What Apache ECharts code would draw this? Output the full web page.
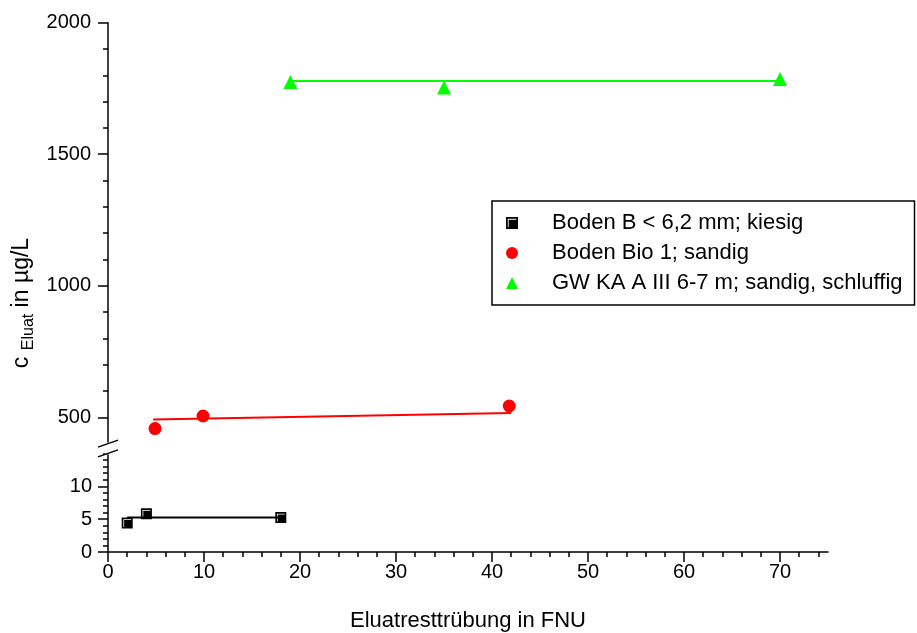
<!DOCTYPE html>
<html>
<head>
<meta charset="utf-8">
<script src="https://cdn.jsdelivr.net/npm/echarts@6/dist/echarts.min.js"></script>
<style>
  html, body { margin: 0; padding: 0; background: #fff; }
  #chart { width: 917px; height: 633px; }
</style>
</head>
<body>
<div id="chart"></div>
<script>
// Measured samples (x: Eluatresttrübung in FNU, y: c_Eluat in µg/L)
const bodenBX = [2, 4, 18];
const bodenBY = [4.4, 5.8, 5.25];
const bodenBFitX = [2, 18];
const bodenBFitY = [5.25, 5.25];

const bio1X = [4.9, 9.9, 41.8];
const bio1Y = [457, 505, 543];
const bio1FitX = [4.7, 42];
const bio1FitY = [492, 516];

const gwX = [19, 35, 70];
const gwY = [1775, 1754, 1786];
const gwFitX = [19, 70];
const gwFitY = [1778, 1778];

const seriesNames = [
  'Boden B < 6,2 mm; kiesig',
  'Boden Bio 1; sandig',
  'GW KA A III 6-7 m; sandig, schluffig'
];

// Axis ticks
const xMajor = [0, 10, 20, 30, 40, 50, 60, 70];
const yUpperMajor = [500, 1000, 1500, 2000];
const yLowerMajor = [0, 5, 10];
const xMinor = [];
for (let v = 0; v < 75; v += 2) xMinor.push(v);
const yUpperMinor = [];
for (let v = 500; v <= 2000; v += 100) yUpperMinor.push(v);
const yLowerMinor = [];
for (let v = 0; v <= 15; v += 1) yLowerMinor.push(v);

const pairs = (xs, ys) => xs.map((x, i) => [x, ys[i]]);

const FONT = 'Liberation Sans, Arial, sans-serif';
const AXIS_LINE = { show: true, lineStyle: { color: '#000', width: 1.5 } };
// black square with a thin white inner corner stroke
const SQUARE = 'path://M0 0H10V10H0Z M1.5 1.5V8.6H2.2V2.2H8.6V1.5Z';

const chart = echarts.init(document.getElementById('chart'), null, { renderer: 'canvas' });

function minorAxis(extra, ticks) {
  return Object.assign({
    type: 'value',
    axisLine: AXIS_LINE,
    axisTick: { show: true, length: 5, customValues: ticks, lineStyle: { color: '#000', width: 1.5 } },
    axisLabel: { show: false },
    splitLine: { show: false }
  }, extra);
}
function majorAxis(extra, ticks, margin) {
  return Object.assign({
    type: 'value',
    axisLine: { show: false },
    axisTick: { show: true, length: 10, customValues: ticks, lineStyle: { color: '#000', width: 1.5 } },
    axisLabel: {
      show: true, customValues: ticks, margin: margin,
      formatter: (v) => String(v),
      color: '#000', fontFamily: FONT, fontSize: 20
    },
    splitLine: { show: false }
  }, extra);
}

const option = {
  backgroundColor: '#fff',
  animation: false,
  grid: [
    { left: 108, right: 89, top: 22.7, bottom: 189.4 },
    { left: 108, right: 89, top: 453.4, bottom: 78 }
  ],
  xAxis: [
    minorAxis({ gridIndex: 1, min: 0, max: 75, position: 'bottom' }, xMinor),
    Object.assign(majorAxis({ gridIndex: 1, min: 0, max: 75, position: 'bottom' }, xMajor, 10), {
      name: 'Eluatresttrübung in FNU',
      nameLocation: 'middle',
      nameGap: 58,
      nameTextStyle: { color: '#000', fontFamily: FONT, fontSize: 22 }
    }),
    { gridIndex: 0, type: 'value', min: 0, max: 75, show: false }
  ],
  yAxis: [
    minorAxis({ gridIndex: 0, min: 400, max: 2000, position: 'left' }, yUpperMinor),
    majorAxis({ gridIndex: 0, min: 400, max: 2000, position: 'left' }, yUpperMajor, 17),
    minorAxis({ gridIndex: 1, min: 0, max: 15, position: 'left' }, yLowerMinor),
    majorAxis({ gridIndex: 1, min: 0, max: 15, position: 'left' }, yLowerMajor, 16)
  ],
  legend: {
    orient: 'vertical',
    left: 492,
    top: 201,
    borderColor: '#000',
    borderWidth: 1.5,
    padding: [11, 12, 11, 14],
    itemWidth: 12,
    itemHeight: 12,
    itemGap: 8,
    textStyle: { color: '#000', fontFamily: FONT, fontSize: 22, lineHeight: 22, padding: [0, 0, 0, 29] },
    data: [
      { name: seriesNames[0], icon: SQUARE },
      { name: seriesNames[1], icon: 'circle' },
      { name: seriesNames[2], icon: 'triangle' }
    ]
  },
  series: [
    {
      name: 'fit-bodenB', type: 'line', xAxisIndex: 0, yAxisIndex: 2,
      data: pairs(bodenBFitX, bodenBFitY), showSymbol: false, symbol: 'none',
      lineStyle: { color: '#000', width: 2 }, silent: true, z: 2
    },
    {
      name: seriesNames[0], type: 'scatter', xAxisIndex: 0, yAxisIndex: 2,
      data: pairs(bodenBX, bodenBY), symbol: SQUARE, symbolSize: 11,
      itemStyle: { color: '#000', opacity: 1 }, z: 3
    },
    {
      name: 'fit-bio1', type: 'line', xAxisIndex: 2, yAxisIndex: 0,
      data: pairs(bio1FitX, bio1FitY), showSymbol: false, symbol: 'none',
      lineStyle: { color: '#ff0000', width: 2 }, silent: true, z: 2
    },
    {
      name: seriesNames[1], type: 'scatter', xAxisIndex: 2, yAxisIndex: 0,
      data: pairs(bio1X, bio1Y), symbol: 'circle', symbolSize: 13,
      itemStyle: { color: '#ff0000', opacity: 1 }, z: 3
    },
    {
      name: 'fit-gw', type: 'line', xAxisIndex: 2, yAxisIndex: 0,
      data: pairs(gwFitX, gwFitY), showSymbol: false, symbol: 'none',
      lineStyle: { color: '#00ff00', width: 2 }, silent: true, z: 2
    },
    {
      name: seriesNames[2], type: 'scatter', xAxisIndex: 2, yAxisIndex: 0,
      data: pairs(gwX, gwY), symbol: 'triangle', symbolSize: 14,
      itemStyle: { color: '#00ff00', opacity: 1 }, z: 3
    }
  ]
};

chart.setOption(option);

// Axis break marks and the rotated y-axis title
const upperBottom = chart.convertToPixel({ xAxisIndex: 2, yAxisIndex: 0 }, [0, 400]);
const lowerTop = chart.convertToPixel({ xAxisIndex: 0, yAxisIndex: 2 }, [0, 15]);
const bx = upperBottom[0];
const slash = (y) => ({
  type: 'line',
  shape: { x1: bx - 10, y1: y + 3.5, x2: bx + 10, y2: y - 3.5 },
  style: { stroke: '#000', lineWidth: 1.5 },
  z: 10
});

chart.setOption({
  graphic: [
    {
      type: 'rect',
      shape: { x: bx - 3, y: upperBottom[1] - 1, width: 6, height: lowerTop[1] - upperBottom[1] + 2 },
      style: { fill: '#fff' },
      z: 9
    },
    slash(upperBottom[1]),
    slash(lowerTop[1]),
    {
      type: 'text',
      x: 22,
      y: 303,
      rotation: Math.PI / 2,
      style: {
        text: '{c|c }{s|Eluat}{c| in µg/L}',
        align: 'center',
        verticalAlign: 'middle',
        fill: '#000',
        fontFamily: FONT,
        rich: {
          c: { fontSize: 23, lineHeight: 30, fontFamily: FONT, fill: '#000' },
          s: { fontSize: 16, lineHeight: 16, verticalAlign: 'bottom', fontFamily: FONT, fill: '#000' }
        }
      }
    }
  ]
});
</script>
</body>
</html>
